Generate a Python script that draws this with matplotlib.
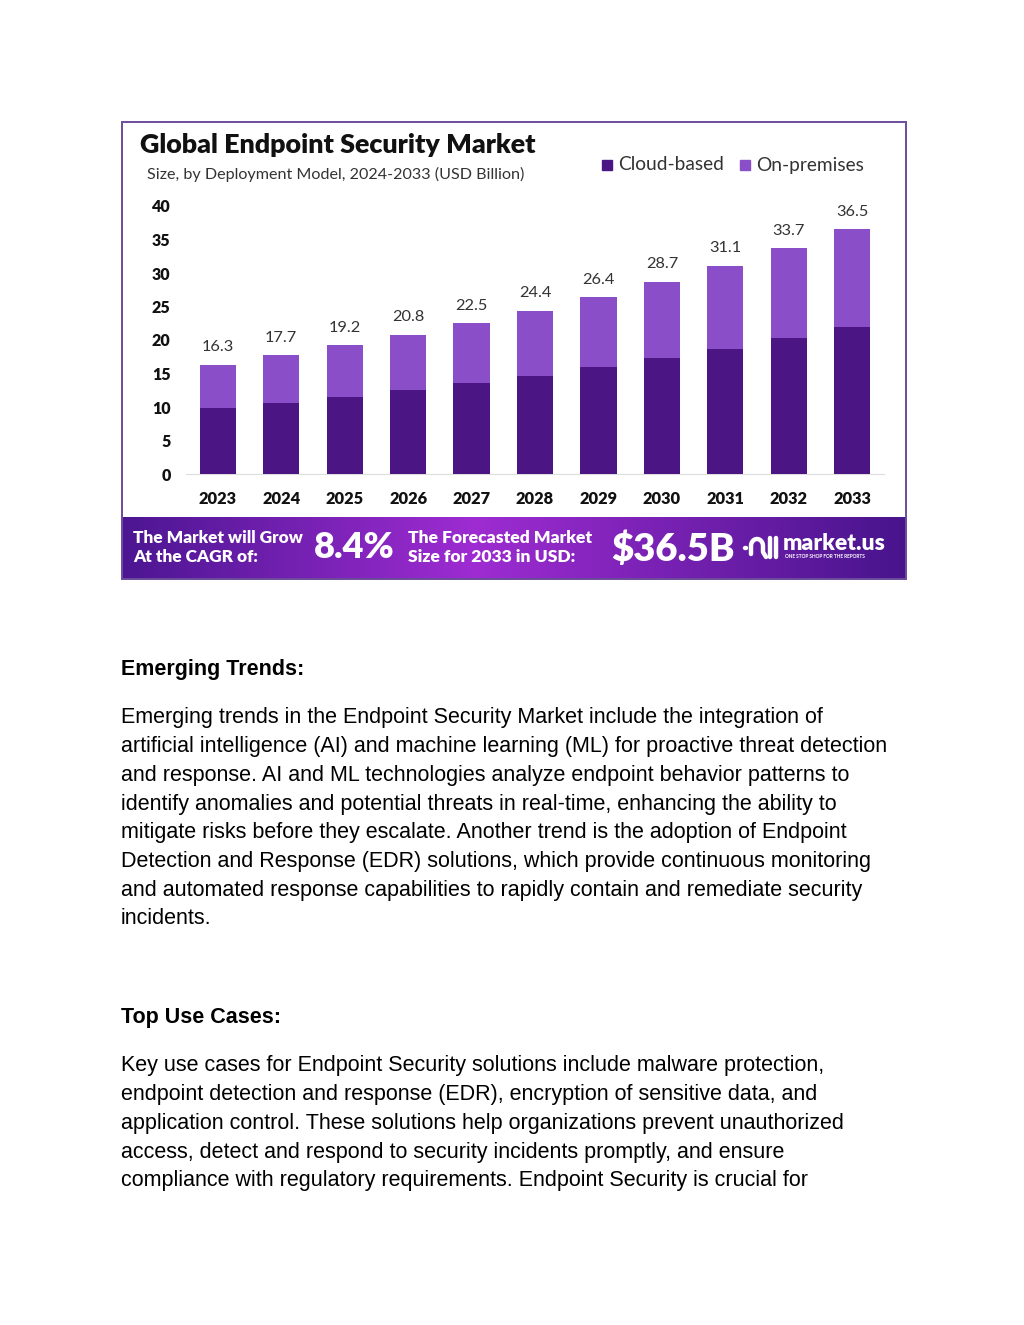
import matplotlib
matplotlib.use("Agg")
import matplotlib.pyplot as plt
from matplotlib.patches import Rectangle
from matplotlib.lines import Line2D
import numpy as np

# ── Data ───────────────────────────────────────────────────────────────────
years     = ["2023", "2024", "2025", "2026", "2027", "2028",
             "2029", "2030", "2031", "2032", "2033"]
totals    = [16.3, 17.7, 19.2, 20.8, 22.5, 24.4, 26.4, 28.7, 31.1, 33.7, 36.5]
cloud     = [9.8, 10.6, 11.5, 12.5, 13.6, 14.7, 15.9, 17.3, 18.7, 20.3, 22.0]
on_prem   = [t - c for t, c in zip(totals, cloud)]
y_ticks   = [0, 5, 10, 15, 20, 25, 30, 35, 40]

body_1 = [
    "Emerging trends in the Endpoint Security Market include the integration of",
    "artificial intelligence (AI) and machine learning (ML) for proactive threat detection",
    "and response. AI and ML technologies analyze endpoint behavior patterns to",
    "identify anomalies and potential threats in real-time, enhancing the ability to",
    "mitigate risks before they escalate. Another trend is the adoption of Endpoint",
    "Detection and Response (EDR) solutions, which provide continuous monitoring",
    "and automated response capabilities to rapidly contain and remediate security",
    "incidents.",
]
body_2 = [
    "Key use cases for Endpoint Security solutions include malware protection,",
    "endpoint detection and response (EDR), encryption of sensitive data, and",
    "application control. These solutions help organizations prevent unauthorized",
    "access, detect and respond to security incidents promptly, and ensure",
    "compliance with regulatory requirements. Endpoint Security is crucial for",
]

# ── Palette ────────────────────────────────────────────────────────────────
CLOUD   = "#4B1584"
ONPREM  = "#8A4FC8"
BORDER  = "#6B4C9A"
LABEL   = "#333333"

W, H = 1024, 1325
fig = plt.figure(figsize=(W / 100, H / 100), dpi=100)
fig.patch.set_facecolor("white")


def fx(px):
    return px / W


def fy(py):
    return 1 - py / H


plt.rcParams["font.family"] = ["Lato", "DejaVu Sans"]

# ── Chart frame ────────────────────────────────────────────────────────────
frame = Rectangle((fx(122), fy(579)), fx(906) - fx(122), fy(122) - fy(579),
                  transform=fig.transFigure, fill=False, edgecolor=BORDER,
                  linewidth=1.4, zorder=5)
fig.patches.append(frame)

# banner gradient
bax = fig.add_axes([fx(122), fy(579), fx(906) - fx(122), fy(517) - fy(579)])
t = np.linspace(0, 1, 400)
r = np.interp(t, [0, 0.45, 1], [0x4C, 0x9E, 0x48])
g = np.interp(t, [0, 0.45, 1], [0x16, 0x2C, 0x14])
b = np.interp(t, [0, 0.45, 1], [0x92, 0xD2, 0x8C])
grad = np.stack([r, g, b], axis=-1)[None, :, :] / 255
bax.imshow(grad, aspect="auto", extent=[0, 1, 0, 1])
bax.set_xlim(0, 1)
bax.set_ylim(0, 1)
bax.axis("off")

fig.text(fx(133), fy(538), "The Market will Grow", color="white", fontsize=12.4,
         fontweight="heavy", va="center")
fig.text(fx(133), fy(557), "At the CAGR of:", color="white", fontsize=12.4,
         fontweight="heavy", va="center")
fig.text(fx(314), fy(548), "8.4%", color="white", fontsize=26,
         fontweight="heavy", va="center")
fig.text(fx(408), fy(538), "The Forecasted Market", color="white", fontsize=12.6,
         fontweight="heavy", va="center")
fig.text(fx(408), fy(557), "Size for 2033 in USD:", color="white", fontsize=12.6,
         fontweight="heavy", va="center")
fig.text(fx(611), fy(549), "$36.5B", color="white", fontsize=27.5,
         fontweight="heavy", va="center")

# market.us logo mark (drawn as a shape)
arc_t = np.linspace(np.pi, 0, 30)
arc_x = 757 + 6 * np.cos(arc_t)
arc_y = 546 - 7 * np.sin(arc_t)
logo = [
    ([745, 746], [548, 548]),
    (list(np.r_[751, arc_x, 763, 766]), list(np.r_[554, arc_y, 552, 557])),
    ([770, 770], [538, 557]),
    ([776, 776], [538, 557]),
]
for lx, ly in logo:
    fig.lines.append(Line2D([fx(v) for v in lx], [fy(v) for v in ly],
                            transform=fig.transFigure, color="white",
                            linewidth=3.2, solid_capstyle="round"))
fig.text(fx(783), fy(544), "market.us", color="white", fontsize=16.5,
         fontweight="heavy", va="center")
fig.text(fx(785), fy(556.5), "ONE STOP SHOP FOR THE REPORTS", color="white",
         fontsize=3.4, fontweight="bold", va="center")

# ── Headings ───────────────────────────────────────────────────────────────
fig.text(fx(140), fy(145), "Global Endpoint Security Market", color="#111111",
         fontsize=19.4, fontweight="heavy", va="center")
fig.text(fx(147), fy(174), "Size, by Deployment Model, 2024-2033 (USD Billion)",
         color="#333333", fontsize=11.6, va="center")

fig.patches.append(Rectangle((fx(602), fy(170)), fx(10), fy(0) - fy(10),
                             transform=fig.transFigure, color=CLOUD))
fig.text(fx(618), fy(165), "Cloud-based", color="#333333", fontsize=13.8,
         va="center")
fig.patches.append(Rectangle((fx(740), fy(170)), fx(10), fy(0) - fy(10),
                             transform=fig.transFigure, color=ONPREM))
fig.text(fx(756), fy(165), "On-premises", color="#333333", fontsize=13.8,
         va="center")

# ── Bars ───────────────────────────────────────────────────────────────────
ax = fig.add_axes([fx(186), fy(474), fx(884) - fx(186), fy(206) - fy(474)])
x = np.arange(len(years))
ax.bar(x, cloud, width=0.57, color=CLOUD, zorder=3)
ax.bar(x, on_prem, width=0.57, bottom=cloud, color=ONPREM, zorder=3)
for xi, tot in zip(x, totals):
    ax.annotate(f"{tot}", (xi, tot), xytext=(0, 7.5), textcoords="offset points",
                ha="center", va="bottom", fontsize=11.8, color=LABEL)

ax.set_xlim(-0.5, 10.5)
ax.set_ylim(0, 40)
ax.set_yticks(y_ticks)
ax.set_yticklabels([str(v) for v in y_ticks], fontweight="heavy", fontsize=11.5,
                   color="#111111")
ax.set_xticks(x)
ax.set_xticklabels(years, fontweight="heavy", fontsize=11.8, color="#111111")
ax.tick_params(length=0)
ax.tick_params(axis="y", pad=11)
ax.tick_params(axis="x", pad=12)
for side in ["top", "right", "left"]:
    ax.spines[side].set_visible(False)
ax.spines["bottom"].set_color("#DDDDDD")
ax.set_facecolor("none")

# ── Body text ──────────────────────────────────────────────────────────────
BODY = ["Liberation Sans", "DejaVu Sans"]
fig.text(fx(121), fy(669), "Emerging Trends:", fontsize=15.5, fontweight="bold",
         color="black", va="center", family=BODY)
for i, line in enumerate(body_1):
    fig.text(fx(121), fy(718 + i * 28.7), line, fontsize=15.5, color="black",
             va="center", family=BODY)

fig.text(fx(121), fy(1017), "Top Use Cases:", fontsize=15.5, fontweight="bold",
         color="black", va="center", family=BODY)
for i, line in enumerate(body_2):
    fig.text(fx(121), fy(1066 + i * 28.7), line, fontsize=15.5, color="black",
             va="center", family=BODY)

fig.savefig("out.png", dpi=100, facecolor="white")
